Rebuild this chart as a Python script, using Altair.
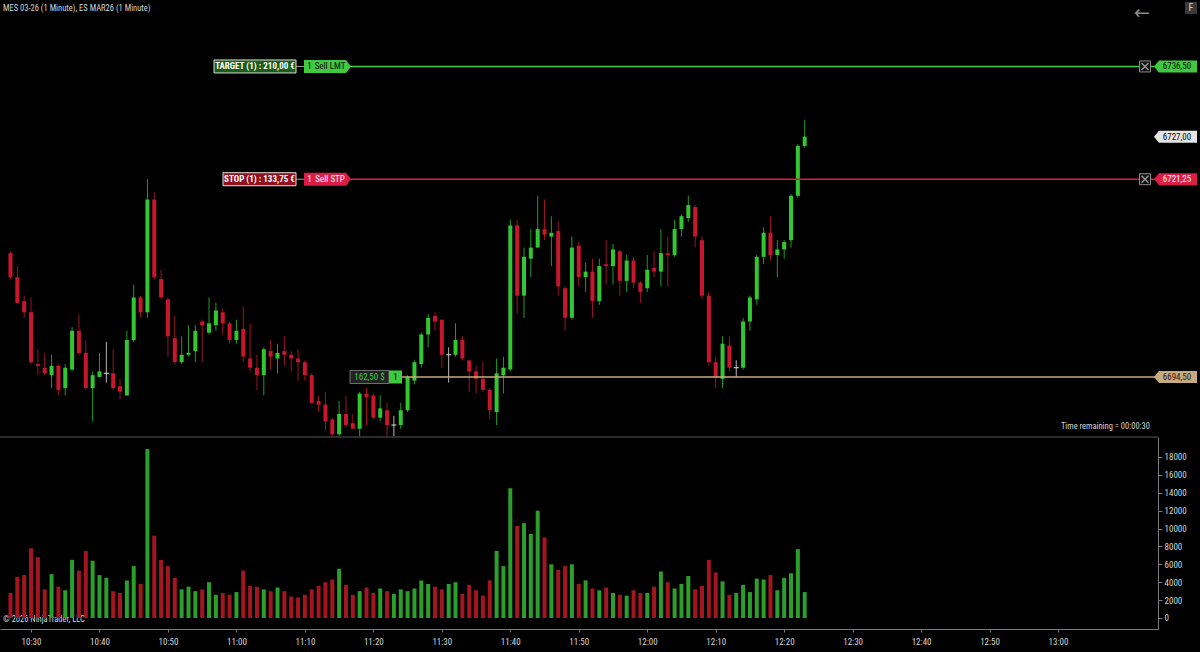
import altair as alt
import pandas as pd

FONT = "Liberation Sans Narrow, Roboto Condensed, Liberation Sans, sans-serif"

# ---------------- data (1-minute bars, first bar 10:27) ----------------
FIRST_BAR_MIN = 10 * 60 + 27

opens = [6711.25, 6708, 6704.75, 6703.25, 6696.25, 6695.75, 6694.75, 6696, 6693, 6695.5,
         6700.75, 6697.75, 6693, 6694.5, 6695, 6695, 6693.25, 6692, 6699.5, 6705.25,
         6703.25, 6718.5, 6707.75, 6705, 6699.75, 6696.5, 6697.5, 6698, 6702, 6700.5,
         6701.5, 6703.25, 6701.75, 6699.5, 6701, 6697, 6695.75, 6694.75, 6698, 6697,
         6698, 6697.5, 6697, 6696.5, 6694.75, 6691.25, 6690.75, 6688.75, 6686.75, 6689.5,
         6688.25, 6687.5, 6692.25, 6692, 6689, 6690, 6688, 6688, 6690, 6694,
         6696.25, 6700.25, 6702.75, 6702.25, 6697.5, 6697.5, 6699.5, 6696.75, 6695.25, 6694.25,
         6692.75, 6689.75, 6694.75, 6695.5, 6715, 6705.5, 6710.5, 6712, 6714.5, 6713.5,
         6714.25, 6706.5, 6702.5, 6712.25, 6708, 6708.75, 6704.75, 6709.75, 6709.5, 6711.5,
         6707.5, 6710.25, 6707.25, 6706.5, 6709.25, 6708.75, 6711.25, 6711, 6714.5, 6716,
         6717.5, 6713, 6705.5, 6696.5, 6694.25, 6698.75, 6695.75, 6695.75, 6702, 6705,
         6710.75, 6714, 6711, 6711.75, 6713, 6719, 6725.75]
highs = [6711.5, 6709.5, 6705.5, 6705.25, 6698.25, 6697.75, 6697.5, 6696.25, 6696.25, 6701.25,
         6703, 6699.5, 6695.25, 6697.75, 6699.25, 6698.25, 6694.25, 6700.75, 6707, 6705.5,
         6721.25, 6719.5, 6709, 6705.25, 6702.75, 6700, 6701.5, 6701.5, 6702.25, 6705.25,
         6704.5, 6703.75, 6702, 6702.25, 6704, 6701.75, 6697.5, 6698.5, 6699.5, 6699,
         6700, 6698, 6698.25, 6696.75, 6695, 6692, 6692.5, 6689, 6691.25, 6692,
         6689.5, 6692.5, 6693, 6692.25, 6692, 6691, 6689.25, 6691, 6694.75, 6696.75,
         6700.5, 6703, 6703.25, 6702.25, 6698.5, 6701.75, 6700, 6696.75, 6696, 6696.5,
         6693, 6697, 6697.25, 6715.75, 6715.75, 6712, 6714.5, 6719, 6718.5, 6716.25,
         6715.5, 6706.75, 6713.5, 6712.75, 6710, 6710.5, 6710.5, 6713, 6712.5, 6711.75,
         6711, 6710.75, 6707.5, 6711, 6711.5, 6714.5, 6713.5, 6715.75, 6716.5, 6719,
         6717.75, 6713.5, 6706, 6697.25, 6700, 6700, 6696.75, 6702.5, 6705.5, 6711,
         6714.75, 6716.25, 6713, 6713, 6719.25, 6726, 6729.25]
lows = [6707.75, 6704.5, 6702.5, 6696.25, 6694.75, 6694.75, 6693, 6692, 6692, 6695.25,
        6697.5, 6692.75, 6688.5, 6694.5, 6693.75, 6692.75, 6691.5, 6692, 6699.25, 6702.5,
        6702.5, 6707.75, 6705, 6697.25, 6696.25, 6696.25, 6697.25, 6696.5, 6696.5, 6700.25,
        6700.75, 6700.25, 6699, 6699, 6696.5, 6695.25, 6692.75, 6692, 6695.5, 6695,
        6696, 6695.25, 6694, 6694, 6690.75, 6689.75, 6687.25, 6686.5, 6686.5, 6687.75,
        6687.5, 6686.5, 6688, 6688.75, 6688.5, 6686.5, 6686.5, 6687.5, 6689.75, 6693.5,
        6695.75, 6698.5, 6700.75, 6695.75, 6693.75, 6697.25, 6696.75, 6692.5, 6692.25, 6692.5,
        6688.75, 6688, 6692.25, 6695.25, 6703, 6702.5, 6708, 6712, 6713, 6709.5,
        6705.5, 6700.75, 6702.25, 6706.75, 6706, 6702.5, 6704.25, 6707, 6707, 6705.5,
        6706, 6706.5, 6704.5, 6706, 6708, 6706.75, 6706.75, 6710.75, 6713.5, 6715.5,
        6712, 6705, 6696, 6693, 6693, 6695.25, 6694.5, 6695.5, 6700.75, 6704.25,
        6709.75, 6710.25, 6708, 6710.5, 6712, 6718.75, 6725.5]
closes = [6708, 6704.5, 6703.25, 6696.5, 6696, 6695, 6696, 6692.75, 6695.75, 6700.75,
          6697.75, 6693, 6694.75, 6695.25, 6695, 6693, 6692.5, 6699.5, 6705.25, 6703.25,
          6718.5, 6708, 6705.25, 6700, 6696.5, 6697.5, 6697.75, 6700.75, 6701.5, 6701.75,
          6703.5, 6701.75, 6699.5, 6700.75, 6697.25, 6695.75, 6694.75, 6698.25, 6697.25, 6697.75,
          6697.5, 6697, 6696.5, 6694.75, 6691, 6690.75, 6688.5, 6686.75, 6689.5, 6688,
          6687.5, 6692.25, 6691.75, 6689, 6690.25, 6688, 6688, 6690, 6694.5, 6696.5,
          6700.25, 6702.5, 6702, 6697.5, 6697.5, 6699.5, 6697, 6695.25, 6694.25, 6692.75,
          6690, 6695, 6695.75, 6715, 6705.5, 6710.75, 6712, 6714.5, 6713.75, 6714,
          6706.75, 6702.5, 6712, 6708, 6708.75, 6704.75, 6709.5, 6709.5, 6711.75, 6707.5,
          6710.25, 6707.25, 6706, 6709, 6708.75, 6711.25, 6711, 6714.5, 6716.25, 6717.75,
          6713.5, 6705.5, 6696.5, 6694.5, 6699, 6695.75, 6695.75, 6702, 6705.25, 6710.75,
          6714, 6711, 6711.75, 6712.75, 6719, 6725.75, 6727]
volumes = [2800, 4600, 4800, 7800, 6800, 3200, 4900, 3500, 3100, 6500,
           5300, 7500, 6400, 4800, 4500, 3000, 2800, 4200, 5800, 3800,
           18900, 9200, 6500, 5800, 4500, 3200, 3500, 3000, 3200, 4000,
           2600, 2800, 2600, 2900, 5300, 3600, 3500, 3200, 3000, 3400,
           3000, 2400, 2300, 2600, 3200, 3600, 4000, 4300, 5500, 3700,
           2600, 3000, 3400, 2800, 3300, 3000, 2700, 3200, 3000, 3300,
           4200, 3800, 3500, 3200, 3800, 4000, 2700, 3700, 3100, 2500,
           4200, 7500, 5800, 14500, 10300, 10600, 9400, 12000, 9000, 6000,
           5400, 5800, 6000, 3800, 4200, 3300, 3100, 3400, 2800, 2600,
           2500, 3100, 2800, 2800, 3500, 5200, 4000, 3300, 3800, 4700,
           3200, 3600, 6500, 5100, 4100, 2600, 2800, 3700, 2900, 4400,
           4300, 4800, 3100, 4500, 5000, 7700, 2900]

bar_time = [FIRST_BAR_MIN + i for i in range(len(opens))]

price_ticks = [6690, 6700, 6705, 6710, 6715, 6720, 6725, 6730, 6735, 6740]
volume_ticks = list(range(0, 18001, 2000))
time_ticks = list(range(10 * 60 + 30, 13 * 60 + 1, 10))

target_price = 6736.50
stop_price = 6721.25
entry_price = 6694.50
last_price = 6727.00

df = pd.DataFrame(dict(t=bar_time, open=opens, high=highs, low=lows, close=closes, vol=volumes))
dummy = pd.DataFrame({"k": [0]})

# ---------------- styling ----------------
GREEN = "#33c633"
RED = "#c8162d"
GREEN_WICK = "#239a23"
RED_WICK = "#9c1424"
DOJI = "#b8b8b8"
VGREEN = "#2b9e2b"
VRED = "#a3151f"
AXIS_COL = "#7a7a7a"
LABEL_COL = "#d4d4d4"
TAG_GREEN = "#3ec93e"
CRIMSON = "#dc1d46"
TAN = "#c8aa80"
FS = 9
FS_SMALL = 8.5

W, H = 1158, 629
PRICE_BOTTOM = 437

XS = alt.Scale(domain=[625.47, 794.6], nice=False, zero=False, padding=0)
PS = alt.Scale(domain=[6686.38, 6745.49], range=[PRICE_BOTTOM, 0], nice=False, zero=False, padding=0)
VS = alt.Scale(domain=[-1230, 20236], range=[H, PRICE_BOTTOM], nice=False, zero=False, padding=0)

axis_style = dict(domainColor=AXIS_COL, tickColor=AXIS_COL, labelColor=LABEL_COL,
                  labelFont=FONT, labelFontSize=FS, grid=False, title=None,
                  labelOverlap=False, domainWidth=1, tickWidth=1)

XAX = alt.Axis(values=time_ticks,
               labelExpr="floor(datum.value/60) + ':' + (datum.value % 60 < 10 ? '0' : '') + (datum.value % 60)",
               tickSize=3, labelPadding=5, labelFlush=False, **axis_style)
PAX = alt.Axis(orient="right", values=price_ticks,
               labelExpr="replace(format(datum.value, '.2f'), '.', ',')",
               tickSize=4, labelPadding=2, **axis_style)
VAX = alt.Axis(orient="right", values=volume_ticks, format="d",
               tickSize=4, labelPadding=2, **axis_style)

X = alt.X("t:Q", scale=XS, axis=XAX)


def dir_color(up, down, flat):
    return f"datum.close > datum.open ? '{up}' : (datum.close < datum.open ? '{down}' : '{flat}')"


base = alt.Chart(df)

wicks = base.transform_calculate(c=dir_color(GREEN_WICK, RED_WICK, DOJI)).mark_rule(strokeWidth=1).encode(
    x=X, y=alt.Y("low:Q", scale=PS, axis=PAX), y2="high:Q", color=alt.Color("c:N", scale=None))

bodies = base.transform_filter("datum.close != datum.open").transform_calculate(
    c=dir_color(GREEN, RED, DOJI)).mark_bar(size=4).encode(
    x=X, y=alt.Y("open:Q", scale=PS, axis=PAX), y2="close:Q", color=alt.Color("c:N", scale=None))

dojis = base.transform_filter("datum.close == datum.open").mark_tick(
    orient="horizontal", size=5, thickness=1, color="#e0e0e0", opacity=1).encode(
    x=X, y=alt.Y("close:Q", scale=PS, axis=PAX))

vol = base.transform_calculate(c=dir_color(VGREEN, VRED, VGREEN)).mark_bar(size=4).encode(
    x=X, y=alt.Y("vol:Q", scale=VS, axis=VAX, stack=None), color=alt.Color("c:N", scale=None))


# ---------------- annotation helpers ----------------
def py(price):
    return alt.YDatum(price, scale=PS, axis=None)


def hline(price, x0, x1, color, width=1.5):
    return alt.Chart(dummy).mark_rule(color=color, strokeWidth=width).encode(
        x=alt.value(x0), x2=alt.value(x1), y=py(price))


def box(price, x0, x1, h, fill, stroke=None, shape="rect", tip=5):
    w = x1 - x0
    half = w / 2.0
    hy = (h / 2.0) / half
    t = 1 - tip / half
    if shape == "right":
        path = f"M-1,{-hy} L{t},{-hy} L1,0 L{t},{hy} L-1,{hy} Z"
    elif shape == "left":
        path = f"M-1,0 L{-t},{-hy} L1,{-hy} L1,{hy} L{-t},{hy} Z"
    else:
        path = f"M-1,{-hy} L1,{-hy} L1,{hy} L-1,{hy} Z"
    kw = dict(shape=path, size=w * w, filled=True, fill=fill, opacity=1, fillOpacity=1)
    if stroke:
        kw.update(stroke=stroke, strokeWidth=1, strokeOpacity=1)
    else:
        kw.update(strokeWidth=0)
    return alt.Chart(dummy).mark_point(**kw).encode(x=alt.value((x0 + x1) / 2.0), y=py(price))


def label(price, xc, text, color, size=FS, weight="normal", align="center"):
    return alt.Chart(dummy).mark_text(text=text, font=FONT, fontSize=size, color=color,
                                      fontWeight=weight, align=align, baseline="middle").encode(
        x=alt.value(xc), y=py(price))


def xbox(price, xc):
    sq = alt.Chart(dummy).mark_point(shape="square", size=121, filled=True, fill="#101010",
                                     stroke="#8c8c8c", strokeWidth=1, opacity=1).encode(
        x=alt.value(xc), y=py(price))
    cross = alt.Chart(dummy).mark_point(shape="M-1,-1 L1,1 M1,-1 L-1,1", size=49, filled=False,
                                        stroke="#9a9a9a", strokeWidth=1.4, opacity=1).encode(
        x=alt.value(xc), y=py(price))
    return [sq, cross]


ann = []
# order lines
ann.append(hline(target_price, 350, W, TAG_GREEN))
ann.append(hline(stop_price, 350, W, CRIMSON))
ann.append(hline(entry_price, 402, W, TAN))
# connectors
ann.append(hline(target_price, 296, 304, "#9a9a9a", 1))
ann.append(hline(stop_price, 296, 304, "#9a9a9a", 1))
# target tags
ann.append(box(target_price, 214, 296, 13, "#1b5e1b", "#d8d8d8"))
ann.append(label(target_price, 255, "TARGET (1)  :  210,00 €", "#ffffff", FS, "bold"))
ann.append(box(target_price, 304, 351, 13, TAG_GREEN, shape="right"))
ann.append(label(target_price, 309.5, "1", "#0c0c0c"))
ann.append(label(target_price, 330, "Sell LMT", "#0c0c0c"))
# stop tags
ann.append(box(stop_price, 223, 296, 13, "#8e0f1d", "#e0e0e0"))
ann.append(label(stop_price, 259.5, "STOP (1)  :  133,75 €", "#ffffff", FS, "bold"))
ann.append(box(stop_price, 304, 351, 13, CRIMSON, shape="right"))
ann.append(label(stop_price, 309.5, "1", "#ffffff"))
ann.append(label(stop_price, 330, "Sell STP", "#ffffff"))
# position tags
ann.append(box(entry_price, 350, 389, 13, "#222222", "#707070"))
ann.append(label(entry_price, 369.5, "162,50 $", TAG_GREEN))
ann.append(box(entry_price, 389, 402, 13, TAG_GREEN))
ann.append(label(entry_price, 395.5, "1", "#0c0c0c"))
# close boxes
ann += xbox(target_price, 1145)
ann += xbox(stop_price, 1145)
# right price tags
ann.append(box(target_price, 1154, 1197, 12, TAG_GREEN, shape="left"))
ann.append(label(target_price, 1177, "6736,50", "#0c0c0c"))
ann.append(box(last_price, 1154, 1197, 12, "#e4e4e4", shape="left"))
ann.append(label(last_price, 1177, "6727,00", "#0c0c0c"))
ann.append(box(stop_price, 1154, 1197, 12, CRIMSON, shape="left"))
ann.append(label(stop_price, 1177, "6721,25", "#ffffff"))
ann.append(box(entry_price, 1154, 1197, 12, TAN, shape="left"))
ann.append(label(entry_price, 1177, "6694,50", "#1a1a1a"))

# chrome
chrome = [
    alt.Chart(dummy).mark_rule(color="#5a5a5a", strokeWidth=1).encode(
        x=alt.value(0), x2=alt.value(W), y=alt.value(PRICE_BOTTOM)),
    alt.Chart(dummy).mark_text(text="MES 03-26 (1 Minute), ES MAR26 (1 Minute)", font=FONT, fontSize=FS_SMALL,
                               color=LABEL_COL, align="left", baseline="middle").encode(
        x=alt.value(3), y=alt.value(8)),
    alt.Chart(dummy).mark_text(text="© 2026 NinjaTrader, LLC", font=FONT, fontSize=FS_SMALL,
                               color=LABEL_COL, align="left", baseline="middle").encode(
        x=alt.value(3), y=alt.value(619)),
    alt.Chart(dummy).mark_text(text="Time remaining = 00:00:30", font=FONT, fontSize=FS_SMALL,
                               color=LABEL_COL, align="right", baseline="middle").encode(
        x=alt.value(1150), y=alt.value(426)),
    alt.Chart(dummy).mark_text(text="←", font="DejaVu Sans", fontSize=19,
                               color="#8a8a8a", align="center", baseline="middle").encode(
        x=alt.value(1142), y=alt.value(13)),
    alt.Chart(dummy).mark_point(shape="square", size=144, filled=True, fill="#3a3a3a",
                                opacity=1, strokeWidth=0).encode(x=alt.value(1191), y=alt.value(8)),
    alt.Chart(dummy).mark_text(text="F", font=FONT, fontSize=10, color="#d0d0d0",
                               align="center", baseline="middle").encode(
        x=alt.value(1191), y=alt.value(8)),
]

price_layer = alt.layer(wicks, bodies, dojis, *ann, *chrome)
vol_layer = alt.layer(vol)

chart = alt.layer(price_layer, vol_layer).resolve_scale(y="independent").properties(
    width=W, height=H, background="#000000",
    padding={"left": 0, "top": 0, "right": 1200 - W, "bottom": 652 - H},
    autosize=alt.AutoSizeParams(type="none"),
).configure_view(strokeWidth=0)

chart.save("out.html", embed_options={"renderer": "svg", "actions": False})
